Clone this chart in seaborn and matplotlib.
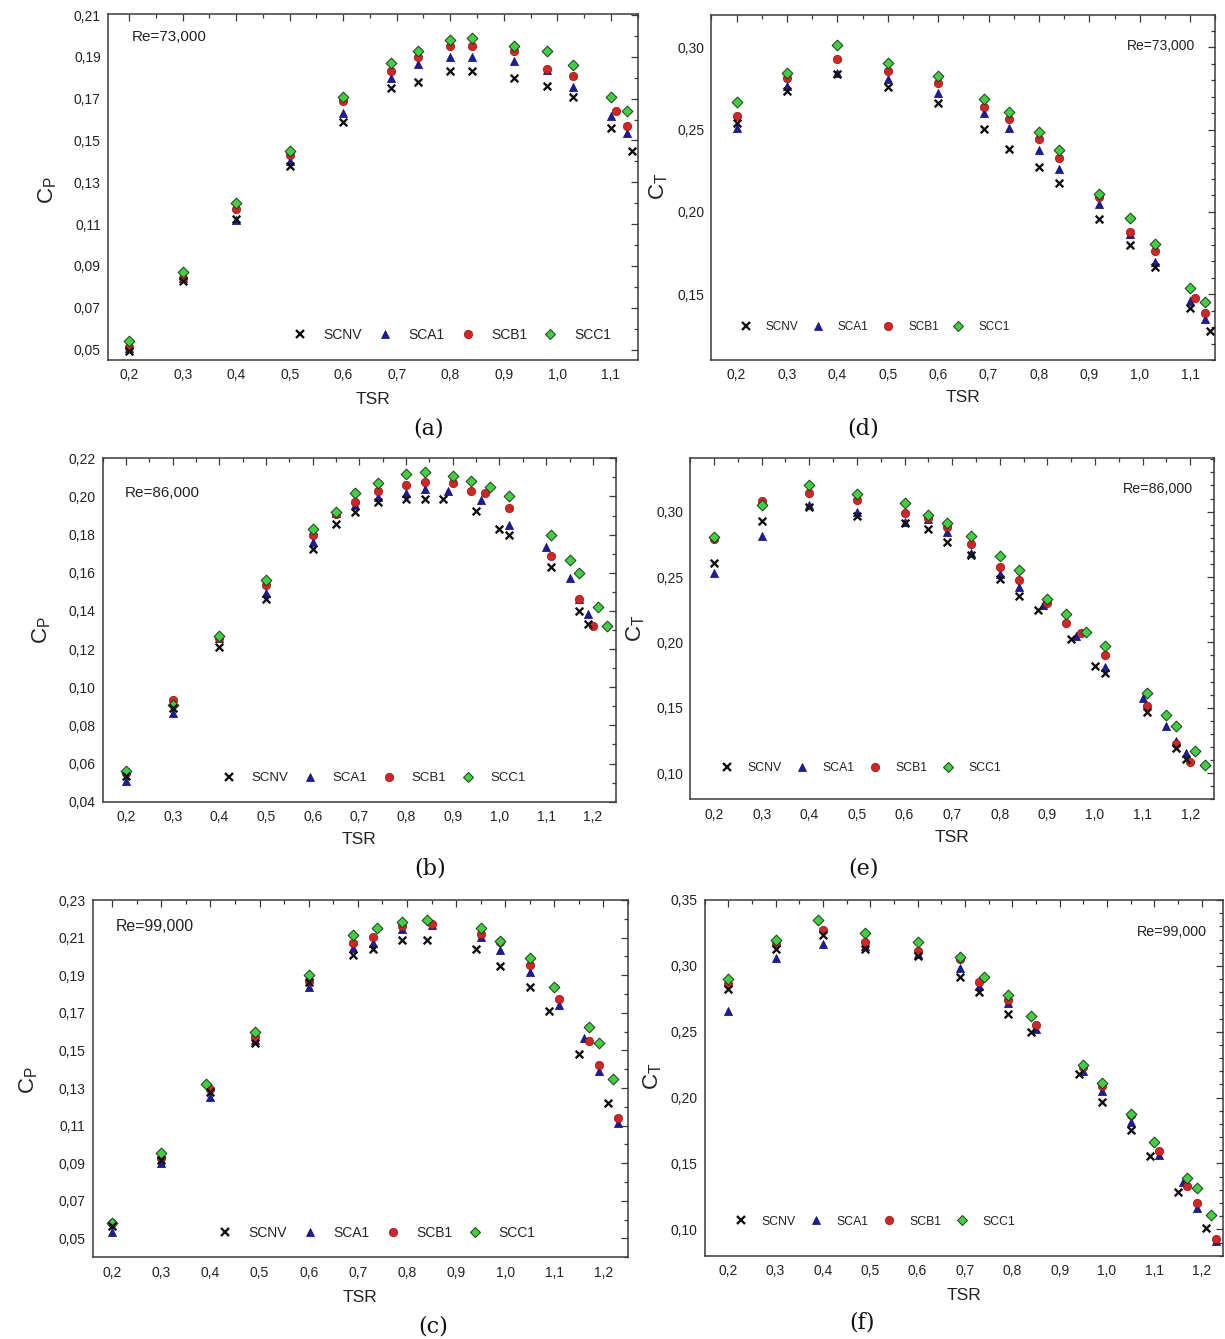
import numpy as np
import pandas as pd
import matplotlib
matplotlib.use("Agg")
import matplotlib.pyplot as plt
from matplotlib.ticker import MultipleLocator, FixedLocator, FuncFormatter
from matplotlib.lines import Line2D
import seaborn as sns

sns.set_theme(style="white")
plt.rcParams["font.family"] = ["Liberation Sans", "DejaVu Sans"]
plt.rcParams["mathtext.fontset"] = "custom"
plt.rcParams["mathtext.rm"] = "Liberation Sans"
plt.rcParams["mathtext.it"] = "Liberation Sans:italic"

SERIES = ["SCNV", "SCA1", "SCB1", "SCC1"]

# ---------------- (a) Cp, Re = 73,000 ----------------
TSR_A_SCNV = [0.20, 0.30, 0.40, 0.50, 0.60, 0.69, 0.74, 0.80, 0.84, 0.92, 0.98, 1.03, 1.10, 1.14]
CP_A_SCNV = [0.0495, 0.0828, 0.1125, 0.138, 0.159, 0.175, 0.178, 0.183, 0.183, 0.180, 0.176, 0.171, 0.156, 0.145]
TSR_A_SCA1 = [0.20, 0.30, 0.40, 0.50, 0.60, 0.69, 0.74, 0.80, 0.84, 0.92, 0.98, 1.03, 1.10, 1.13]
CP_A_SCA1 = [0.0506, 0.084, 0.112, 0.140, 0.163, 0.180, 0.1866, 0.190, 0.190, 0.188, 0.1837, 0.1755, 0.1615, 0.1534]
TSR_A_SCB1 = [0.20, 0.30, 0.40, 0.50, 0.60, 0.69, 0.74, 0.80, 0.84, 0.92, 0.98, 1.03, 1.11, 1.13]
CP_A_SCB1 = [0.051, 0.0844, 0.117, 0.143, 0.169, 0.183, 0.190, 0.195, 0.195, 0.193, 0.184, 0.181, 0.164, 0.157]
TSR_A_SCC1 = [0.20, 0.30, 0.40, 0.50, 0.60, 0.69, 0.74, 0.80, 0.84, 0.92, 0.98, 1.03, 1.10, 1.13]
CP_A_SCC1 = [0.054, 0.087, 0.120, 0.145, 0.171, 0.187, 0.193, 0.198, 0.199, 0.195, 0.193, 0.186, 0.171, 0.164]

# ---------------- (d) Ct, Re = 73,000 ----------------
CT_D_SCNV = [0.2538, 0.2736, 0.2838, 0.2757, 0.2663, 0.2505, 0.2384, 0.2274, 0.2173, 0.1954, 0.1796, 0.1666, 0.1415, 0.1275]
CT_D_SCA1 = [0.2511, 0.2767, 0.2842, 0.2809, 0.2720, 0.2599, 0.2511, 0.2378, 0.2258, 0.2051, 0.1863, 0.1695, 0.1457, 0.1348]
CT_D_SCB1 = [0.2586, 0.2813, 0.2927, 0.2854, 0.2783, 0.2635, 0.2566, 0.2445, 0.2325, 0.2092, 0.1877, 0.1763, 0.1478, 0.1386]
CT_D_SCC1 = [0.2666, 0.2846, 0.3016, 0.2907, 0.2826, 0.2686, 0.2607, 0.2485, 0.2376, 0.2106, 0.1966, 0.1806, 0.1536, 0.1455]

# ---------------- (b) Cp, Re = 86,000 ----------------
TSR_B_SCNV = [0.20, 0.30, 0.40, 0.50, 0.60, 0.65, 0.69, 0.74, 0.80, 0.84, 0.88, 0.95, 1.00, 1.02, 1.11, 1.17, 1.19]
CP_B_SCNV = [0.0535, 0.089, 0.121, 0.1465, 0.1727, 0.1857, 0.1916, 0.1969, 0.1986, 0.1986, 0.1986, 0.1925, 0.1827, 0.1796, 0.1628, 0.1399, 0.1329]
TSR_B_SCA1 = [0.20, 0.30, 0.40, 0.50, 0.60, 0.65, 0.69, 0.74, 0.80, 0.84, 0.89, 0.96, 1.02, 1.10, 1.15, 1.17, 1.19]
CP_B_SCA1 = [0.051, 0.0866, 0.126, 0.1492, 0.176, 0.1914, 0.1956, 0.1998, 0.202, 0.204, 0.203, 0.1981, 0.1852, 0.1733, 0.1574, 0.146, 0.1382]
TSR_B_SCB1 = [0.20, 0.30, 0.40, 0.50, 0.60, 0.65, 0.69, 0.74, 0.80, 0.84, 0.90, 0.94, 0.97, 1.02, 1.11, 1.17, 1.20]
CP_B_SCB1 = [0.0548, 0.0933, 0.1258, 0.1535, 0.1797, 0.1907, 0.197, 0.2028, 0.206, 0.2077, 0.2068, 0.2026, 0.2019, 0.1937, 0.1687, 0.146, 0.1319]
TSR_B_SCC1 = [0.20, 0.30, 0.40, 0.50, 0.60, 0.65, 0.69, 0.74, 0.80, 0.84, 0.90, 0.94, 0.98, 1.02, 1.11, 1.15, 1.17, 1.21, 1.23]
CP_B_SCC1 = [0.0562, 0.0907, 0.127, 0.1562, 0.1829, 0.192, 0.2019, 0.2068, 0.2119, 0.213, 0.2108, 0.2079, 0.2047, 0.2005, 0.1796, 0.1668, 0.1598, 0.1418, 0.1319]

# ---------------- (e) Ct, Re = 86,000 ----------------
CT_E_SCNV = [0.261, 0.2931, 0.3038, 0.297, 0.291, 0.287, 0.2768, 0.2666, 0.2488, 0.2358, 0.2248, 0.2027, 0.1818, 0.1764, 0.1464, 0.1189, 0.1107]
CT_E_SCA1 = [0.2534, 0.2817, 0.3048, 0.2995, 0.2918, 0.2945, 0.2847, 0.2687, 0.2521, 0.2427, 0.2287, 0.205, 0.1813, 0.1571, 0.1364, 0.1247, 0.1153]
CT_E_SCB1 = [0.2791, 0.3084, 0.3143, 0.3092, 0.2992, 0.2952, 0.2885, 0.2753, 0.258, 0.248, 0.2299, 0.2149, 0.2075, 0.1907, 0.1512, 0.1222, 0.1087]
CT_E_SCC1 = [0.2804, 0.3048, 0.3206, 0.3135, 0.3064, 0.2975, 0.2913, 0.2814, 0.2661, 0.2552, 0.233, 0.222, 0.2078, 0.1976, 0.1611, 0.1443, 0.1362, 0.1171, 0.1059]

# ---------------- (c) Cp, Re = 99,000 ----------------
TSR_C_SCNV = [0.20, 0.30, 0.40, 0.49, 0.60, 0.69, 0.73, 0.79, 0.84, 0.94, 0.99, 1.05, 1.09, 1.15, 1.21]
CP_C_SCNV = [0.0567, 0.092, 0.1278, 0.1537, 0.1865, 0.2007, 0.2037, 0.2087, 0.2087, 0.2039, 0.1949, 0.1839, 0.1709, 0.1479, 0.1222]
TSR_C_SCA1 = [0.20, 0.30, 0.40, 0.49, 0.60, 0.69, 0.73, 0.79, 0.85, 0.95, 0.99, 1.05, 1.11, 1.16, 1.19, 1.23]
CP_C_SCA1 = [0.0535, 0.0902, 0.1254, 0.1555, 0.1839, 0.2043, 0.2069, 0.2144, 0.2167, 0.2105, 0.2034, 0.1915, 0.1743, 0.1567, 0.1392, 0.1112]
TSR_C_SCB1 = [0.20, 0.30, 0.40, 0.49, 0.60, 0.69, 0.73, 0.79, 0.85, 0.95, 0.99, 1.05, 1.11, 1.17, 1.19, 1.23]
CP_C_SCB1 = [0.058, 0.0926, 0.1293, 0.1573, 0.187, 0.2073, 0.2101, 0.2163, 0.217, 0.2119, 0.2074, 0.1957, 0.1773, 0.1551, 0.1422, 0.1142]
TSR_C_SCC1 = [0.20, 0.30, 0.39, 0.49, 0.60, 0.69, 0.74, 0.79, 0.84, 0.95, 0.99, 1.05, 1.10, 1.17, 1.19, 1.22]
CP_C_SCC1 = [0.0583, 0.0952, 0.1321, 0.1599, 0.19, 0.2113, 0.2149, 0.2181, 0.2193, 0.2152, 0.2082, 0.1991, 0.184, 0.1622, 0.1541, 0.1349]

# ---------------- (f) Ct, Re = 99,000 ----------------
TSR_F_SCNV = [0.20, 0.30, 0.40, 0.49, 0.60, 0.69, 0.73, 0.79, 0.84, 0.94, 0.99, 1.05, 1.09, 1.15, 1.21]
CT_F_SCNV = [0.2827, 0.3126, 0.3232, 0.3126, 0.3077, 0.2918, 0.2804, 0.2637, 0.2498, 0.2177, 0.1967, 0.1757, 0.1557, 0.1286, 0.1008]
TSR_F_SCA1 = [0.20, 0.30, 0.40, 0.49, 0.60, 0.69, 0.73, 0.79, 0.85, 0.95, 0.99, 1.05, 1.11, 1.16, 1.19, 1.23]
CT_F_SCA1 = [0.266, 0.3062, 0.3163, 0.3151, 0.309, 0.2981, 0.2847, 0.2721, 0.2523, 0.2199, 0.2053, 0.1812, 0.1562, 0.1357, 0.1159, 0.0914]
TSR_F_SCB1 = [0.20, 0.30, 0.40, 0.49, 0.60, 0.69, 0.73, 0.79, 0.85, 0.95, 0.99, 1.05, 1.11, 1.17, 1.19, 1.23]
CT_F_SCB1 = [0.2865, 0.3163, 0.3272, 0.3184, 0.3113, 0.3052, 0.288, 0.2738, 0.2551, 0.223, 0.2086, 0.1865, 0.1597, 0.1329, 0.1202, 0.0929]
TSR_F_SCC1 = [0.20, 0.30, 0.39, 0.49, 0.60, 0.69, 0.74, 0.79, 0.84, 0.95, 0.99, 1.05, 1.10, 1.17, 1.19, 1.22]
CT_F_SCC1 = [0.29, 0.3194, 0.3348, 0.325, 0.3179, 0.307, 0.2916, 0.2779, 0.2617, 0.2247, 0.2108, 0.1878, 0.1665, 0.1387, 0.1314, 0.1109]

# marker appearance for each configuration
STYLE = {
    "SCNV": dict(marker="x", color="#111111", edgecolor="#111111", s=30, linewidth=1.7),
    "SCA1": dict(marker="^", color="#1b1b9e", edgecolor="#0e0e6a", s=34, linewidth=0.5),
    "SCB1": dict(marker="o", color="#d62424", edgecolor="#8a1515", s=36, linewidth=0.5),
    "SCC1": dict(marker="D", color="#3fd03f", edgecolor="#1c3a1c", s=30, linewidth=0.7),
}
DRAW_ORDER = ["SCA1", "SCB1", "SCC1", "SCNV"]

W, H = 1225, 1339
fig = plt.figure(figsize=(W / 100, H / 100), dpi=100)
fig.patch.set_facecolor("white")


def px_axes(x0, y0, x1, y1):
    return fig.add_axes([x0 / W, 1 - y1 / H, (x1 - x0) / W, (y1 - y0) / H])


def long_frame(xs, ys):
    parts = []
    for name, x, y in zip(SERIES, xs, ys):
        parts.append(pd.DataFrame({"TSR": x, "value": y, "config": name}))
    return pd.concat(parts, ignore_index=True)


PANELS = [
    dict(rect=(107.7, 14, 637.6, 360), letter="(a)", letter_xy=(429, 428),
         xs=[TSR_A_SCNV, TSR_A_SCA1, TSR_A_SCB1, TSR_A_SCC1],
         ys=[CP_A_SCNV, CP_A_SCA1, CP_A_SCB1, CP_A_SCC1],
         xlim=(0.16, 1.15), ylim=(0.045, 0.2105), yticks=np.arange(0.05, 0.2101, 0.02),
         ylabel=r"$\mathregular{C_P}$", ylabel_xy=(48, 190), xlabel_y=400,
         re="Re=73,000", re_xy=(0.046, 0.934), re_ha="left", re_fs=11,
         leg_xy=(0.35, 0.072), leg_fs=10),
    dict(rect=(711.4, 15, 1215.3, 360), letter="(d)", letter_xy=(863, 428),
         xs=[TSR_A_SCNV, TSR_A_SCA1, TSR_A_SCB1, TSR_A_SCC1],
         ys=[CT_D_SCNV, CT_D_SCA1, CT_D_SCB1, CT_D_SCC1],
         xlim=(0.15, 1.15), ylim=(0.11, 0.3197), yticks=np.arange(0.15, 0.301, 0.05),
         ylabel=r"$\mathregular{C_T}$", ylabel_xy=(658.6, 186), xlabel_y=398,
         re="Re=73,000", re_xy=(0.96, 0.911), re_ha="right", re_fs=10,
         leg_xy=(0.056, 0.096), leg_fs=8.5),
    dict(rect=(102.7, 458.3, 616.2, 801.7), letter="(b)", letter_xy=(430, 868),
         xs=[TSR_B_SCNV, TSR_B_SCA1, TSR_B_SCB1, TSR_B_SCC1],
         ys=[CP_B_SCNV, CP_B_SCA1, CP_B_SCB1, CP_B_SCC1],
         xlim=(0.15, 1.25), ylim=(0.04, 0.22), yticks=np.arange(0.04, 0.2201, 0.02),
         ylabel=r"$\mathregular{C_P}$", ylabel_xy=(42, 630), xlabel_y=840,
         re="Re=86,000", re_xy=(0.043, 0.898), re_ha="left", re_fs=11,
         leg_xy=(0.233, 0.069), leg_fs=9.5),
    dict(rect=(690.2, 458.3, 1214.1, 799.3), letter="(e)", letter_xy=(863, 868),
         xs=[TSR_B_SCNV, TSR_B_SCA1, TSR_B_SCB1, TSR_B_SCC1],
         ys=[CT_E_SCNV, CT_E_SCA1, CT_E_SCB1, CT_E_SCC1],
         xlim=(0.15, 1.25), ylim=(0.08, 0.3408), yticks=np.arange(0.10, 0.301, 0.05),
         ylabel=r"$\mathregular{C_T}$", ylabel_xy=(635.4, 628), xlabel_y=838,
         re="Re=86,000", re_xy=(0.96, 0.91), re_ha="right", re_fs=10.3,
         leg_xy=(0.058, 0.092), leg_fs=8.8),
    dict(rect=(92.6, 900, 628, 1257.3), letter="(c)", letter_xy=(433, 1326),
         xs=[TSR_C_SCNV, TSR_C_SCA1, TSR_C_SCB1, TSR_C_SCC1],
         ys=[CP_C_SCNV, CP_C_SCA1, CP_C_SCB1, CP_C_SCC1],
         xlim=(0.16, 1.25), ylim=(0.04, 0.23), yticks=np.arange(0.05, 0.2301, 0.02),
         ylabel=r"$\mathregular{C_P}$", ylabel_xy=(28.6, 1080), xlabel_y=1297,
         re="Re=99,000", re_xy=(0.044, 0.927), re_ha="left", re_fs=11.4,
         leg_xy=(0.234, 0.069), leg_fs=10),
    dict(rect=(704.5, 900, 1223, 1255.7), letter="(f)", letter_xy=(862, 1323),
         xs=[TSR_F_SCNV, TSR_F_SCA1, TSR_F_SCB1, TSR_F_SCC1],
         ys=[CT_F_SCNV, CT_F_SCA1, CT_F_SCB1, CT_F_SCC1],
         xlim=(0.15, 1.245), ylim=(0.08, 0.35), yticks=np.arange(0.10, 0.351, 0.05),
         ylabel=r"$\mathregular{C_T}$", ylabel_xy=(652.8, 1076), xlabel_y=1295,
         re="Re=99,000", re_xy=(0.968, 0.911), re_ha="right", re_fs=10.3,
         leg_xy=(0.058, 0.096), leg_fs=8.8),
]

SPINE = "#3a3a3a"
TEXT = "#222222"
comma2 = FuncFormatter(lambda v, p: f"{v:.2f}".replace(".", ","))
comma1 = FuncFormatter(lambda v, p: f"{v:.1f}".replace(".", ","))

for P in PANELS:
    ax = px_axes(*P["rect"])
    df = long_frame(P["xs"], P["ys"])
    for z, name in enumerate(DRAW_ORDER):
        st = STYLE[name]
        sns.scatterplot(data=df[df["config"] == name], x="TSR", y="value", ax=ax,
                        marker=st["marker"], color=st["color"], edgecolor=st["edgecolor"],
                        s=st["s"], linewidth=st["linewidth"], zorder=3 + z,
                        legend=False, clip_on=False)

    ax.set_xlim(*P["xlim"])
    ax.set_ylim(*P["ylim"])
    ax.xaxis.set_major_locator(MultipleLocator(0.1))
    ax.xaxis.set_minor_locator(MultipleLocator(0.05))
    ax.yaxis.set_major_locator(FixedLocator(P["yticks"]))
    ax.yaxis.set_minor_locator(MultipleLocator(0.01))
    ax.xaxis.set_major_formatter(comma1)
    ax.yaxis.set_major_formatter(comma2)
    ax.tick_params(which="both", direction="in", top=True, right=True,
                   color=SPINE, width=0.9, labelcolor=TEXT)
    ax.tick_params(which="major", length=5, labelsize=10, pad=5)
    ax.tick_params(which="minor", length=3)
    ax.tick_params(axis="x", which="major", pad=6)
    for sp in ax.spines.values():
        sp.set_color(SPINE)
        sp.set_linewidth(1.1)
        sp.set_visible(True)
    ax.grid(False)

    # axis titles
    ax.set_xlabel("TSR", fontsize=12.5, color=TEXT, va="center")
    x0, _, x1, _ = P["rect"]
    ax.xaxis.set_label_coords((x0 + x1) / 2 / W, 1 - P["xlabel_y"] / H,
                              transform=fig.transFigure)
    ax.set_ylabel(P["ylabel"], fontsize=16, color=TEXT, va="center", ha="center")
    lx, ly = P["ylabel_xy"]
    ax.yaxis.set_label_coords(lx / W, 1 - ly / H, transform=fig.transFigure)

    # Reynolds number annotation
    ax.text(P["re_xy"][0], P["re_xy"][1], P["re"], transform=ax.transAxes,
            ha=P["re_ha"], va="center", fontsize=P["re_fs"], color=TEXT)

    # legend in a single row
    handles = [Line2D([], [], linestyle="none", marker=STYLE[n]["marker"],
                      markersize=np.sqrt(STYLE[n]["s"]), markerfacecolor=STYLE[n]["color"],
                      markeredgecolor=STYLE[n]["edgecolor"],
                      markeredgewidth=STYLE[n]["linewidth"], color=STYLE[n]["color"])
               for n in SERIES]
    ax.legend(handles, SERIES, ncol=4, frameon=False, loc="center left",
              bbox_to_anchor=P["leg_xy"], borderaxespad=0, borderpad=0,
              handlelength=1.0, handletextpad=1.2, columnspacing=1.15,
              fontsize=P["leg_fs"], labelcolor=TEXT)

    # panel letter
    fig.text(P["letter_xy"][0] / W, 1 - P["letter_xy"][1] / H, P["letter"],
             ha="center", va="center", fontsize=16, color="#111111",
             family=["DejaVu Serif"])

fig.savefig("out.png", dpi=100, facecolor="white")
